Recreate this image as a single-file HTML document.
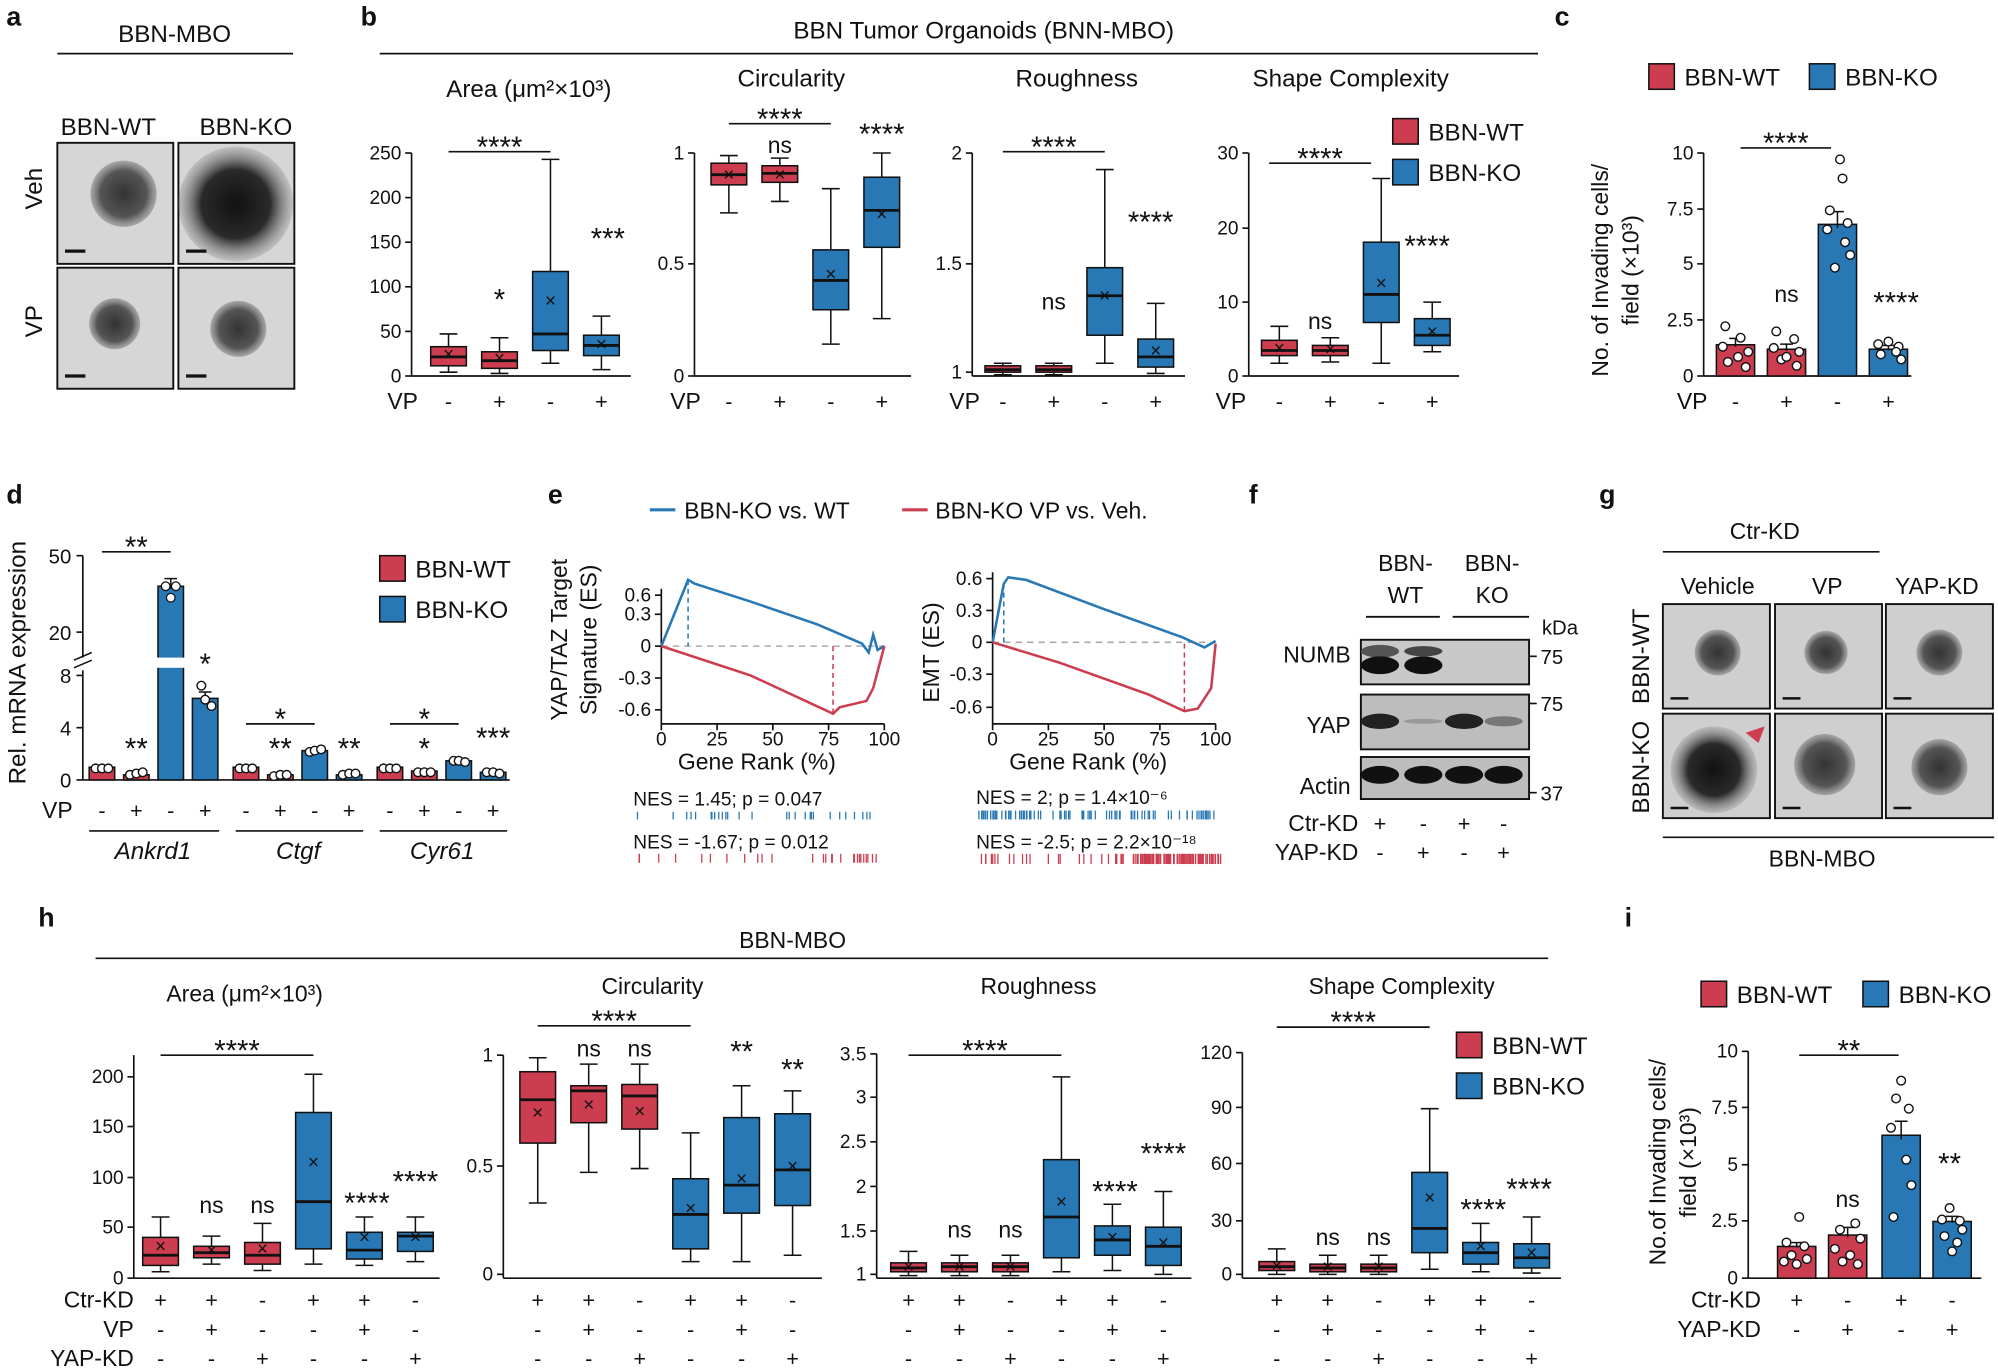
<!DOCTYPE html>
<html><head><meta charset="utf-8"><style>
html,body{margin:0;padding:0;background:#fff;}
svg{display:block;font-family:"Liberation Sans",sans-serif;}
</style></head><body>
<svg id="s" width="1998" height="1370" viewBox="0 0 1568 1075" xmlns="http://www.w3.org/2000/svg">
<defs>
<radialGradient id="org" cx="50%" cy="50%" r="50%"><stop offset="0" stop-color="#333"/><stop offset="0.7" stop-color="#555"/><stop offset="1" stop-color="#888" stop-opacity="0.6"/></radialGradient>
<radialGradient id="orgD" cx="50%" cy="50%" r="50%"><stop offset="0" stop-color="#111"/><stop offset="0.6" stop-color="#2a2a2a"/><stop offset="1" stop-color="#888" stop-opacity="0.3"/></radialGradient>
</defs>
</svg>
<script>
const S=document.getElementById('s');const NS='http://www.w3.org/2000/svg';
const RED='#cc3d50',BLUE='#2878b5';
function el(t,a,txt){const e=document.createElementNS(NS,t);for(const k in a)e.setAttribute(k,a[k]);if(txt!==undefined)e.textContent=txt;S.appendChild(e);return e;}
function T(x,y,s,sz=17,anc='middle',extra={}){if(/^\*+$/.test(String(s))){sz=23;y+=7;}return el('text',Object.assign({x:x,y:y,'font-size':sz,'text-anchor':anc,fill:'#111'},extra),s);}
function L(x1,y1,x2,y2,w=1.3,c='#111',d){const a={x1,y1,x2,y2,stroke:c,'stroke-width':w};if(d)a['stroke-dasharray']=d;return el('line',a);}
function R(x,y,w,h,f,st='#111',sw=1.2){return el('rect',{x,y,width:w,height:h,fill:f,stroke:st,'stroke-width':sw});}
function box(cx,b1,b2,med,wt,wb,xm,c,w=28){L(cx,wt,cx,b1,1.2);L(cx,b2,cx,wb,1.2);L(cx-w*0.25,wt,cx+w*0.25,wt,1.2);L(cx-w*0.25,wb,cx+w*0.25,wb,1.2);R(cx-w/2,b1,w,b2-b1,c,'#111',1.2);L(cx-w/2,med,cx+w/2,med,2.2);if(xm)T(cx,xm+5,'×',15);}
function yaxis(x,ticks,top,bot,sz=15){L(x,top,x,bot,1.3);ticks.forEach(([v,y])=>{L(x-5,y,x,y,1.3);T(x-8,y+5,v,sz,'end');});}
function xaxis(x1,x2,y){L(x1,y,x2,y,1.3);}
function sig(x1,x2,y,s){L(x1,y,x2,y,1.3);T((x1+x2)/2,y-3,s,18);}
function leg(x,y,c,s,sz=19){R(x,y,20,20,c,'#111',1.2);T(x+28,y+17,s,sz,'start');}
function signs(xs,arr,y,sz=17){arr.forEach((s,i)=>T(xs[i],y,s,sz));}
function bar(cx,w,v0,yv,c,err,dots){R(cx-w/2,yv,w,v0-yv,c,'#111',1.2);if(err){L(cx,yv-err,cx,yv+err*0.3,1.2);L(cx-5,yv-err,cx+5,yv-err,1.2);}(dots||[]).forEach(([dx,dy])=>el('circle',{cx:cx+dx,cy:dy,r:3.4,fill:'#fff',stroke:'#111','stroke-width':1.1}));}
function rotT(x,y,s,sz=18){return T(x,y,s,sz,'middle',{transform:`rotate(-90 ${x} ${y})`});}
function lbl(x,y,s){T(x,y,s,21,'start',{'font-weight':'bold'});}

// panel a
lbl(5,20,'a');T(137,33,'BBN-MBO',19);L(45,42,230,42);
T(85,106,'BBN-WT',19);T(193,106,'BBN-KO',19);rotT(33,148,'Veh',19);rotT(33,252,'VP',19);
[[45,112,'org',97,152,26],[140,112,'orgD',185,160,45],[45,210,'org',90,254,20],[140,210,'org',187,258,22]].forEach(([x,y,g,cx,cy,r])=>{R(x,y,91,95,'#d6d6d6','#111',1.5);el('circle',{cx,cy,r,fill:`url(#${g})`});L(x+6,y+85,x+22,y+85,2.5);});

// panel b
lbl(283,20,'b');T(772,30,'BBN Tumor Organoids (BNN-MBO)',19);L(298,42,1207,42);
T(415,76,'Area (μm²×10³)',19);yaxis(323,[[0,295],[50,260],[100,225],[150,190],[200,155],[250,120]],120,295);xaxis(323,495,295);
box(352,272,287,280,262,292,278,RED);box(392,276,289,283,265,293,281,RED);box(432,213,275,262,125,285,236,BLUE);box(472,263,279,271,248,290,270,BLUE);
sig(352,432,119,'****');T(392,236,'*',19);T(477,188,'***',19);
T(316,321,'VP',18);signs([352,392,432,472],['-','+','-','+'],321);
T(621,68,'Circularity',19);yaxis(545,[[0,295],[0.5,207],[1,120]],120,295);xaxis(545,715,295);
box(572,128,145,137,122,167,137,RED);box(612,130,143,136,124,158,137,RED);box(652,196,243,220,148,270,215,BLUE);box(692,139,194,165,120,250,168,BLUE);
sig(572,652,97,'****');T(612,120,'ns',18);T(692,106,'****',18);
T(538,321,'VP',18);signs([572,612,652,692],['-','+','-','+'],321);
T(845,68,'Roughness',19);yaxis(763,[[1,292],[1.5,207],[2,120]],120,295);xaxis(763,930,295);
box(787,287,292,290,285,294,0,RED);box(827,287,292,290,285,294,0,RED);box(867,210,263,232,133,285,232,BLUE);box(907,266,288,280,238,293,275,BLUE);
sig(787,867,119,'****');T(827,243,'ns',18);T(903,175,'****',18);
T(757,321,'VP',18);signs([787,827,867,907],['-','+','-','+'],321);
T(1060,68,'Shape Complexity',19);yaxis(980,[[0,295],[10,237],[20,179],[30,120]],120,295);xaxis(980,1145,295);
box(1004,267,279,275,256,285,273,RED);box(1044,271,279,275,265,284,274,RED);box(1084,190,253,231,140,285,222,BLUE);box(1124,250,271,263,237,276,260,BLUE);
sig(996,1076,128,'****');T(1036,258,'ns',18);T(1120,194,'****',18);
T(966,321,'VP',18);signs([1004,1044,1084,1124],['-','+','-','+'],321);
leg(1093,93,RED,'BBN-WT');leg(1093,125,BLUE,'BBN-KO');

// panel c
lbl(1220,20,'c');leg(1294,50,RED,'BBN-WT');leg(1420,50,BLUE,'BBN-KO');
yaxis(1337,[[0,295],[2.5,251],[5,207],[7.5,164],[10,120]],120,295);xaxis(1337,1500,295);
const cy0=295,cs=17.5;
bar(1362,30,cy0,cy0-1.4*cs,RED,5,[[-8,256],[4,265],[10,276],[-6,284],[8,288],[-10,272],[2,280]]);
bar(1402,30,cy0,cy0-1.2*cs,RED,4,[[-8,260],[6,266],[10,276],[-4,282],[8,287],[-10,273],[0,280]]);
bar(1442,30,cy0,cy0-6.8*cs,BLUE,10,[[2,125],[4,140],[-6,165],[8,175],[-8,180],[6,190],[10,200],[-2,210]]);
bar(1482,30,cy0,cy0-1.2*cs,BLUE,3,[[-8,270],[0,268],[8,272],[-6,278],[6,276],[10,282]]);
sig(1366,1437,116,'****');T(1402,237,'ns',18);T(1488,238,'****',18);
rotT(1262,212,'No. of Invading cells/',18);rotT(1286,212,'field (×10³)',18);
T(1328,321,'VP',18);signs([1362,1402,1442,1482],['-','+','-','+'],321);

// panel d
lbl(5,395,'d');
L(65,436,65,516,1.3);L(65,526,65,612,1.3);L(58,518,72,512,1.2);L(58,524,72,518,1.2);
[[50,436],[20,496],[8,530],[4,571],[0,612]].forEach(([v,y])=>{L(60,y,65,y,1.3);T(56,y+6,v,16,'end');});
L(65,612,400,612,1.3);
const d0=612;
bar(80,20,d0,602,RED,0,[[-5,603],[0,603],[5,603]]);bar(107,20,d0,608,RED,0,[[-5,608],[0,607],[5,606]]);
R(124,460,20,152,BLUE,'#111',1.2);R(122,516,24,8,'#fff','none',0);L(134,462,134,454,1.2);L(129,454,139,454,1.2);[[-4,460],[4,460],[0,469]].forEach(([dx,y])=>el('circle',{cx:134+dx,cy:y,r:3.4,fill:'#fff',stroke:'#111'}));
bar(161,20,d0,548,BLUE,5,[[-3,538],[0,549],[5,554]]);
bar(193,20,d0,602,RED,0,[[-5,603],[0,603],[5,603]]);bar(220,20,d0,608,RED,0,[[-5,609],[0,608],[5,608]]);bar(247,20,d0,589,BLUE,0,[[-4,590],[0,589],[5,588]]);bar(274,20,d0,608,BLUE,0,[[-5,608],[0,607],[5,607]]);
bar(306,20,d0,602,RED,0,[[-5,603],[0,603],[5,603]]);bar(333,20,d0,605,RED,0,[[-5,606],[0,606],[5,606]]);bar(360,20,d0,597,BLUE,0,[[-4,597],[0,597],[5,598]]);bar(387,20,d0,606,BLUE,0,[[-5,606],[0,606],[5,607]]);
sig(80,134,433,'**');T(107,588,'**',18);T(161,522,'*',19);sig(193,247,568,'*');T(220,588,'**',18);T(274,588,'**',18);sig(306,360,568,'*');T(333,588,'*',18);T(387,580,'***',18);
leg(298,436,RED,'BBN-WT');leg(298,468,BLUE,'BBN-KO');
rotT(20,520,'Rel. mRNA expression',19);
T(45,642,'VP',18);signs([80,107,134,161,193,220,247,274,306,333,360,387],['-','+','-','+','-','+','-','+','-','+','-','+'],642);
L(70,652,172,652);L(185,652,285,652);L(298,652,398,652);
T(120,674,'Ankrd1',19,'middle',{'font-style':'italic'});T(234,674,'Ctgf',19,'middle',{'font-style':'italic'});T(347,674,'Cyr61',19,'middle',{'font-style':'italic'});

// panel e
lbl(430,395,'e');L(510,400,530,400,2.5,BLUE);T(537,407,'BBN-KO vs. WT',18,'start');L(708,400,728,400,2.5,RED);T(734,407,'BBN-KO VP vs. Veh.',18,'start');
function gsea(x0,ticks,pb,pr){
  const X=p=>x0+p*1.75;
  yaxis(x0,ticks,ticks[0][1]-5,568,15);L(x0,568,x0+175,568,1.3);
  [0,25,50,75,100].forEach(v=>{L(X(v),568,X(v),573);T(X(v),585,v,15);});
  const zy=ticks[2][1];
  L(x0,zy,x0+175,zy,1.2,'#aaa','5,4');
  el('polyline',{points:pb.map(([p,y])=>X(p)+','+y).join(' '),fill:'none',stroke:BLUE,'stroke-width':2});
  el('polyline',{points:pr.map(([p,y])=>X(p)+','+y).join(' '),fill:'none',stroke:RED,'stroke-width':2});
  L(X(pb[1][0]),pb[1][1],X(pb[1][0]),zy,1.2,BLUE,'4,3');
  const rm=pr.reduce((a,b)=>b[1]>a[1]?b:a);L(X(rm[0]),rm[1],X(rm[0]),zy,1.2,RED,'4,3');
  T(x0+75,604,'Gene Rank (%)',18);
}
gsea(519,[['0.6',467],['0.3',482],['0',507],['-0.3',532],['-0.6',557]],
 [[0,507],[12,455],[15,458],[40,472],[70,490],[90,505],[93,512],[95,498],[97,510],[100,507]],
 [[0,507],[40,530],[77,560],[80,555],[92,550],[95,540],[100,507]]);
rotT(445,502,'YAP/TAZ Target',18);rotT(468,502,'Signature (ES)',18);
gsea(779,[['0.6',454],['0.3',479],['0',504],['-0.3',529],['-0.6',555]],
 [[0,504],[5,458],[7,453],[15,455],[50,478],[85,500],[95,508],[100,503]],
 [[0,504],[30,520],[70,545],[86,558],[92,556],[98,540],[100,505]]);
rotT(737,512,'EMT (ES)',18);
T(497,632,'NES = 1.45; p = 0.047',15,'start');T(497,666,'NES = -1.67; p = 0.012',15,'start');
T(766,631,'NES = 2; p = 1.4×10⁻⁶',15,'start');T(766,666,'NES = -2.5; p = 2.2×10⁻¹⁸',15,'start');
let seed=3;const rnd=function(){seed=(seed*9301+49297)%233280;return seed/233280;};
for(let i=0;i<28;i++){const x=497+rnd()*193;L(x,637,x,643,1,BLUE);}
for(let i=0;i<14;i++){const x=497+rnd()*193;L(x,670,x,677,1,RED);}for(let i=0;i<14;i++){const x=645+rnd()*45;L(x,670,x,677,1,RED);}
for(let i=0;i<90;i++){const x=768+Math.pow(rnd(),1.2)*190;L(x,636,x,643,1,BLUE);}
for(let i=0;i<50;i++){const x=768+rnd()*190;L(x,670,x,678,1,RED);}for(let i=0;i<60;i++){const x=895+rnd()*65;L(x,670,x,678,1,RED);}

// panel f
lbl(980,395,'f');T(1103,448,'BBN-',18);T(1103,473,'WT',18);T(1171,448,'BBN-',18);T(1171,473,'KO',18);
L(1072,484,1130,484,1.5);L(1140,484,1200,484,1.5);T(1210,498,'kDa',16,'start');
R(1068,502,132,35,'#c8c8c8','#111',1.5);R(1068,545,132,43,'#bdbdbd','#111',1.5);R(1068,594,132,33,'#bdbdbd','#111',1.5);
T(1060,520,'NUMB',18,'end');T(1060,575,'YAP',18,'end');T(1060,623,'Actin',18,'end');
[[1083,511,5,'#555'],[1083,522,7,'#111'],[1117,511,4,'#444'],[1117,522,7,'#111']].forEach(([x,y,ry,c])=>el('ellipse',{cx:x,cy:y,rx:15,ry,fill:c}));
[[1083,566,6,'#222'],[1117,566,2,'#999'],[1149,566,6,'#222'],[1180,566,4,'#777']].forEach(([x,y,ry,c])=>el('ellipse',{cx:x,cy:y,rx:15,ry,fill:c}));
[1083,1117,1149,1180].forEach(x=>el('ellipse',{cx:x,cy:608,rx:15,ry:7,fill:'#111'}));
L(1200,515,1206,515);T(1209,521,'75',16,'start');L(1200,552,1206,552);T(1209,558,'75',16,'start');L(1200,622,1206,622);T(1209,628,'37',16,'start');
T(1066,652,'Ctr-KD',18,'end');T(1066,675,'YAP-KD',18,'end');signs([1083,1117,1149,1180],['+','-','+','-'],652);signs([1083,1117,1149,1180],['-','+','-','+'],675);

// panel g
lbl(1255,395,'g');T(1385,423,'Ctr-KD',18);L(1305,433,1475,433);
T(1348,466,'Vehicle',18);T(1434,466,'VP',18);T(1520,466,'YAP-KD',18);
rotT(1294,515,'BBN-WT',19);rotT(1294,602,'BBN-KO',19);
[[1305,474,1348,512,18,'org'],[1393,474,1433,512,17,'org'],[1480,474,1522,512,18,'org'],[1305,560,1345,604,34,'orgD'],[1393,560,1432,600,24,'org'],[1480,560,1522,602,22,'org']].forEach(([x,y,cx,cy,r,g])=>{R(x,y,84,82,'#cfcfcf','#111',1.5);el('circle',{cx,cy,r,fill:`url(#${g})`});L(x+6,y+74,x+20,y+74,2);});
el('polygon',{points:'1370,575 1385,570 1380,583',fill:RED});
L(1305,657,1565,657);T(1430,680,'BBN-MBO',18);

// panel h
lbl(30,727,'h');T(622,744,'BBN-MBO',18);L(75,752,1215,752);
const rowsH=[['+','+','-','+','+','-'],['-','+','-','-','+','-'],['-','-','+','-','-','+']];
function hplot(xs){rowsH.forEach((r,i)=>signs(xs,r,1026+i*23));}
T(192,786,'Area (μm²×10³)',18);yaxis(105,[[0,1003],[50,963],[100,924],[150,884],[200,845]],828,1003);xaxis(105,345,1003);
const xA=[126,166,206,246,286,326],cA=[RED,RED,RED,BLUE,BLUE,BLUE];
[[971,993,985,955,998,978],[978,987,983,970,992,981],[975,992,985,960,997,980],[873,980,943,843,992,912],[967,988,981,955,993,971],[967,982,970,955,990,971]].forEach((b,i)=>box(xA[i],...b,cA[i]));
sig(126,246,828,'****');T(166,952,'ns',18);T(206,952,'ns',18);T(288,945,'****',18);T(326,928,'****',18);
T(105,1026,'Ctr-KD',18,'end');T(105,1049,'VP',18,'end');T(105,1072,'YAP-KD',18,'end');hplot(xA);
T(512,780,'Circularity',18);yaxis(395,[[0,1000],[0.5,915],[1,828]],828,1003);xaxis(395,645,1003);
const xC=[422,462,502,542,582,622];
[[841,897,863,830,944,873],[852,881,856,835,920,867],[851,886,860,835,917,872],[925,980,953,889,990,948],[877,952,930,852,990,925],[874,946,918,856,985,915]].forEach((b,i)=>box(xC[i],...b,cA[i]));
sig(422,542,805,'****');T(462,829,'ns',18);T(502,829,'ns',18);T(582,826,'**',18);T(622,840,'**',18);hplot(xC);
T(815,780,'Roughness',18);yaxis(688,[[1,1000],[1.5,966],[2,931],[2.5,896],[3,861],[3.5,827]],827,1003);xaxis(688,935,1003);
const xR=[713,753,793,833,873,913];
[[991,998,995,982,1001,994],[991,998,994,985,1001,994],[991,998,994,985,1001,994],[910,987,955,845,998,943],[962,985,973,945,997,971],[963,993,978,935,1000,975]].forEach((b,i)=>box(xR[i],...b,cA[i]));
sig(713,833,828,'****');T(753,971,'ns',18);T(793,971,'ns',18);T(875,936,'****',18);T(913,906,'****',18);hplot(xR);
T(1100,780,'Shape Complexity',18);yaxis(975,[[0,1000],[30,958],[60,913],[90,869],[120,826]],826,1003);xaxis(975,1225,1003);
const xS=[1002,1042,1082,1122,1162,1202];
[[990,997,994,980,1000,993],[992,998,995,985,1000,994],[992,998,995,985,1000,994],[920,983,964,870,996,940],[975,992,983,960,998,978],[976,995,987,955,999,983]].forEach((b,i)=>box(xS[i],...b,cA[i]));
sig(1002,1122,806,'****');T(1042,977,'ns',18);T(1082,977,'ns',18);T(1164,950,'****',18);T(1200,934,'****',18);hplot(xS);
leg(1143,810,RED,'BBN-WT');leg(1143,842,BLUE,'BBN-KO');

// panel i
lbl(1275,727,'i');leg(1335,770,RED,'BBN-WT');leg(1462,770,BLUE,'BBN-KO');
yaxis(1372,[[0,1003],[2.5,958],[5,914],[7.5,869],[10,825]],825,1003);xaxis(1372,1555,1003);
const is=17.8;
bar(1410,30,1003,1003-1.4*is,RED,3,[[2,955],[-8,975],[6,978],[-4,985],[8,988],[-10,990],[0,992]]);
bar(1450,30,1003,1003-1.9*is,RED,6,[[6,960],[-6,965],[10,972],[-10,980],[2,985],[-4,990],[8,992]]);
bar(1492,30,1003,1003-6.3*is,BLUE,11,[[0,848],[-4,862],[6,870],[-8,885],[4,910],[8,930],[-6,955]]);
bar(1532,30,1003,1003-2.5*is,BLUE,4,[[-2,948],[-8,957],[6,958],[8,965],[-6,970],[4,975],[0,982]]);
sig(1412,1490,828,'**');T(1450,947,'ns',18);T(1530,914,'**',18);
rotT(1307,912,'No.of Invading cells/',18);rotT(1331,912,'field (×10³)',18);
T(1382,1026,'Ctr-KD',18,'end');T(1382,1049,'YAP-KD',18,'end');signs([1410,1450,1492,1532],['+','-','+','-'],1026);signs([1410,1450,1492,1532],['-','+','-','+'],1049);
</script>
</body></html>
